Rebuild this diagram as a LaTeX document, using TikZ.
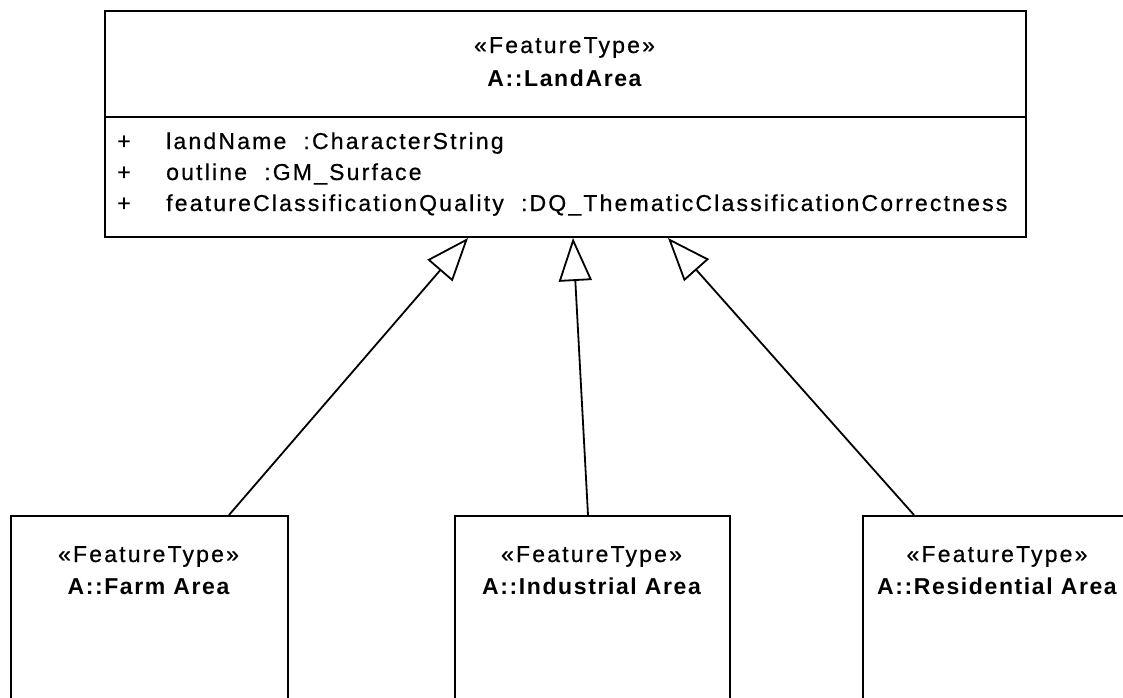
\documentclass[tikz,border=0pt]{standalone}
\usepackage{fontspec}
\setmainfont{Liberation Sans}
\newfontfamily\stereofont[LetterSpace=9.5, FakeBold=0.6]{Liberation Sans}
\newfontfamily\namefont[LetterSpace=7]{Liberation Sans}
\usetikzlibrary{arrows.meta}
\usetikzlibrary{positioning}

\tikzset{
  classbox/.style={draw, line width=2pt, inner sep=0pt, anchor=north west},
  stereo/.style={anchor=base, inner sep=0pt, font=\stereofont\fontsize{23}{27}\selectfont},
  classname/.style={anchor=base, inner sep=0pt, font=\namefont\fontsize{23}{27}\selectfont\bfseries},
  attrtext/.style={anchor=base west, inner sep=0pt, font=\stereofont\fontsize{23}{27}\selectfont},
  generalize/.style={->, line width=1.8pt}
}

\begin{document}
\begin{tikzpicture}[x=1pt, y=-1pt, >={Triangle[open, length=43pt, width=33pt]}]
    \useasboundingbox (0,0) rectangle (1123,697);
    % supertype
    \node[classbox, minimum width=921pt, minimum height=226pt] (land) at (104,10) {};
    \draw[line width=2pt] (land.west |- 0,117) -- (land.east |- 0,117);
    \node[stereo] (landst) at (564.5,53) {«FeatureType»};
    \node[classname] (landnm) at (564.5,86) {A::LandArea};
    \foreach \y/\attr [count=\i] in {149/landName~ :CharacterString, 180/outline~ :GM\_Surface, 211/featureClassificationQuality~ :DQ\_ThematicClassificationCorrectness}{
        \node[attrtext, anchor=base] (plus\i) at (124,\y) {+};
        \node[attrtext] (attr\i) at (166,\y) {\attr};
    }
    % subtypes
    \node[classbox, minimum width=277pt, minimum height=200pt] (farm) at (10,515) {};
    \node[stereo] (farmst) at (148.5,562) {«FeatureType»};
    \node[classname] (farmnm) at (148.5,594) {A::Farm Area};
    \node[classbox, minimum width=275pt, minimum height=200pt] (indus) at (454,515) {};
    \node[stereo] (indusst) at (591.5,562) {«FeatureType»};
    \node[classname] (indusnm) at (591.5,594) {A::Industrial Area};
    \node[classbox, minimum width=270pt, minimum height=200pt] (resid) at (862,515) {};
    \node[stereo] (residst) at (997,562) {«FeatureType»};
    \node[classname] (residnm) at (997,594) {A::Residential Area};
    % generalizations
    \draw[generalize] ([xshift=79.5pt]farm.north) -- ([xshift=-97.5pt]land.south);
    \draw[generalize] ([xshift=-4.5pt]indus.north) -- ([xshift=7.5pt]land.south);
    \draw[generalize] ([xshift=-84pt]resid.north) -- ([xshift=102.5pt]land.south);
\end{tikzpicture}
\end{document}
